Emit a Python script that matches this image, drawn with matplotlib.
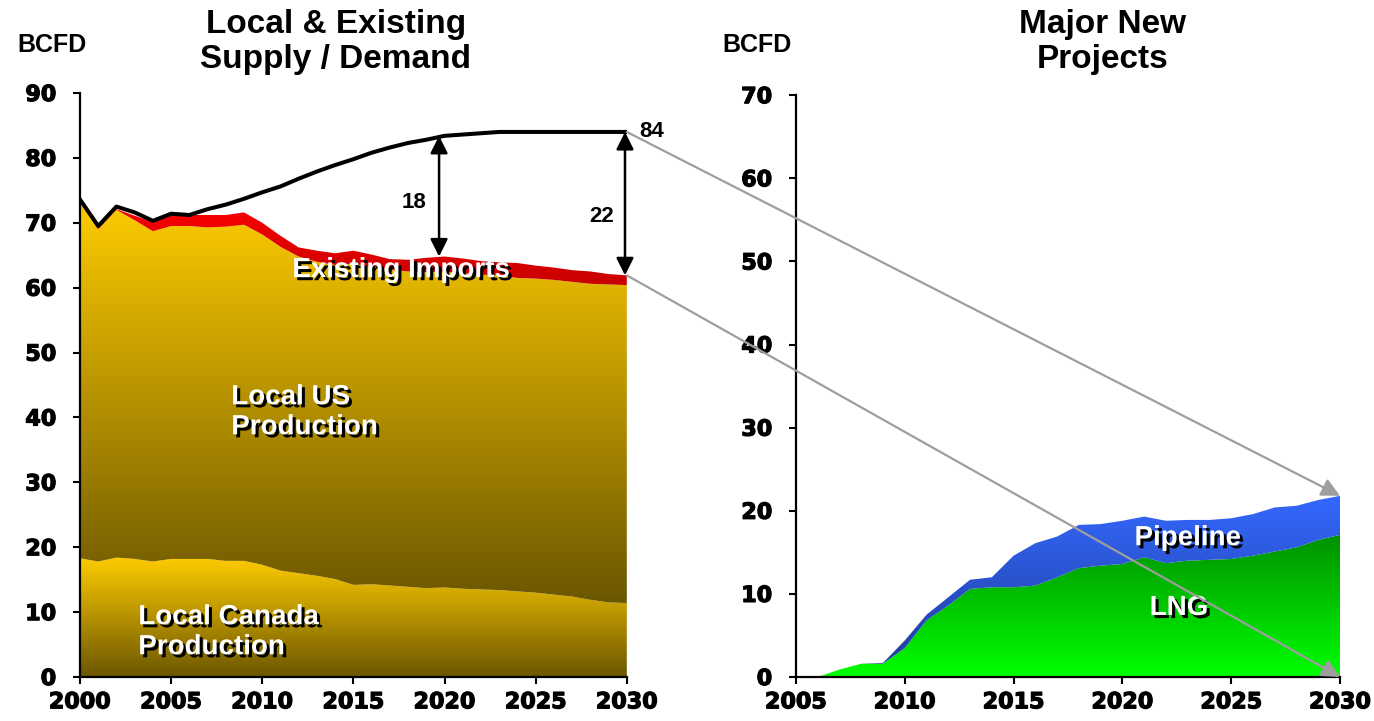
import numpy as np
import matplotlib
matplotlib.use('Agg')
from matplotlib import pyplot as plt
from matplotlib.colors import LinearSegmentedColormap
from matplotlib.patches import ConnectionPatch
import matplotlib.patheffects as pe

# left chart: local & existing supply / demand, BCFD
years = list(range(2000, 2031))
canada = [18.3, 17.8, 18.4, 18.2, 17.8, 18.2, 18.2, 18.2, 17.9, 17.9, 17.3, 16.4, 16.0, 15.6, 15.1, 14.2,
          14.3, 14.1, 13.9, 13.7, 13.8, 13.6, 13.5, 13.4, 13.2, 13.0, 12.7, 12.4, 11.9, 11.5, 11.4]
us_prod = [55.3, 51.2, 53.6, 52.2, 50.9, 51.3, 51.3, 51.1, 51.5, 51.8, 50.9, 49.9, 48.8, 48.4, 48.4, 49.5,
           48.9, 48.7, 48.6, 48.7, 48.7, 48.6, 48.5, 48.5, 48.3, 48.4, 48.5, 48.5, 48.7, 49.0, 49.0]
imports = [0.0, 0.3, 0.1, 0.7, 1.4, 1.8, 1.7, 1.9, 1.8, 1.9, 1.8, 1.7, 1.4, 1.7, 1.8, 2.0,
           1.9, 1.6, 1.8, 2.2, 2.3, 2.3, 2.1, 2.0, 2.3, 2.0, 1.9, 1.8, 1.9, 1.6, 1.5]
demand = [73.6, 69.5, 72.5, 71.6, 70.3, 71.4, 71.2, 72.1, 72.8, 73.7, 74.7, 75.6, 76.8, 77.9, 78.9, 79.8,
          80.8, 81.6, 82.3, 82.8, 83.4, 83.6, 83.8, 84.0, 84.0, 84.0, 84.0, 84.0, 84.0, 84.0, 84.0]

# right chart: major new projects
new_years = list(range(2005, 2031))
lng = [0, 0, 0.9, 1.6, 1.6, 3.5, 6.8, 8.6, 10.6, 10.8, 10.8, 11.0, 12.0, 13.1, 13.4, 13.6,
       14.4, 13.7, 14.0, 14.1, 14.2, 14.6, 15.1, 15.6, 16.5, 17.1]
pipeline = [0, 0, 0, 0, 0.1, 0.9, 0.7, 1.0, 1.1, 1.2, 3.8, 5.1, 4.9, 5.2, 5.0, 5.2,
            4.9, 5.1, 4.9, 4.8, 4.9, 5.0, 5.3, 5.0, 4.8, 4.7]

left_xticks = [2000, 2005, 2010, 2015, 2020, 2025, 2030]
right_xticks = [2005, 2010, 2015, 2020, 2025, 2030]

ARIAL = ['Liberation Sans', 'DejaVu Sans']
HEAVY = ['DejaVu Sans']


def grad_fill(ax, x, lo, hi, top_col, bot_col, z):
    # gradient over the polygon's bounding box, clipped to the polygon
    poly = ax.fill_between(x, lo, hi, facecolor='none', edgecolor='none', zorder=z)
    cmap = LinearSegmentedColormap.from_list('g', [bot_col, top_col])
    grad = np.linspace(0, 1, 256).reshape(-1, 1)
    im = ax.imshow(grad, extent=[x[0], x[-1], np.min(lo), np.max(hi)], origin='lower',
                   aspect='auto', cmap=cmap, zorder=z, interpolation='bilinear')
    im.set_clip_path(poly.get_paths()[0], transform=ax.transData)


def shadow_text(ax, x, y, s, **kw):
    t = ax.text(x, y, s, color='white', fontsize=20, fontweight='bold', family=ARIAL,
                linespacing=1.2, zorder=10, **kw)
    t.set_path_effects([pe.SimplePatchShadow(offset=(2.2, -2.2), shadow_rgbFace='black', alpha=1),
                        pe.Normal()])
    return t


def style_axes(ax):
    for s in ['top', 'right']:
        ax.spines[s].set_visible(False)
    for s in ['left', 'bottom']:
        ax.spines[s].set_linewidth(1.6)
    ax.tick_params(direction='out', length=5, width=1.5)
    ax.tick_params(axis='y', pad=12)
    ax.tick_params(axis='x', pad=6)
    for lab in ax.get_xticklabels() + ax.get_yticklabels():
        lab.set_fontfamily(HEAVY)
        lab.set_fontweight('bold')
        lab.set_fontsize(16)
        lab.set_path_effects([pe.withStroke(linewidth=0.9, foreground='black')])


fig = plt.figure(figsize=(13.74, 7.21), dpi=100)
ax1 = fig.add_axes([0.0582, 0.061, 0.398, 0.81])
ax2 = fig.add_axes([0.5793, 0.061, 0.396, 0.807])

x = np.array(years, dtype=float)
can = np.array(canada)
loc = can + np.array(us_prod)
sup = loc + np.array(imports)
zero = np.zeros_like(x)

grad_fill(ax1, x, zero, can, '#FFCC00', '#6B5600', 1)
grad_fill(ax1, x, can, loc, '#FFCC00', '#6B5600', 1)
grad_fill(ax1, x, loc, sup, '#FF0000', '#C80000', 1)
ax1.plot(x, demand, color='black', lw=2.9, zorder=5, solid_joinstyle='round')

ax1.set_xlim(2000, 2030)
ax1.set_ylim(0, 90)
ax1.set_xticks(left_xticks)
ax1.set_yticks(range(0, 91, 10))
style_axes(ax1)

# gap arrows
i20 = years.index(2020)
ax1.annotate('', xy=(2019.7, sup[i20]), xytext=(2019.7, demand[i20]),
             arrowprops=dict(arrowstyle='<|-|>,head_length=0.7,head_width=0.35', color='black',
                             lw=1.8, mutation_scale=15, shrinkA=0, shrinkB=0), zorder=6)
ax1.annotate('', xy=(2029.9, sup[-1]), xytext=(2029.9, demand[-1]),
             arrowprops=dict(arrowstyle='<|-|>,head_length=0.7,head_width=0.35', color='black',
                             lw=1.8, mutation_scale=15, shrinkA=0, shrinkB=0), zorder=6)
ax1.text(2018.3, 73.2, '18', fontsize=16, fontweight='bold', family=ARIAL, ha='center', va='center')
ax1.text(2028.6, 71.0, '22', fontsize=16, fontweight='bold', family=ARIAL, ha='center', va='center')
ax1.text(2030.7, 84, '84', fontsize=16, fontweight='bold', family=ARIAL, ha='left', va='center',
         clip_on=False)

shadow_text(ax1, 2017.6, 62.7, 'Existing Imports', ha='center', va='center')
shadow_text(ax1, 2008.3, 40.8, 'Local US\nProduction', ha='left', va='center')
shadow_text(ax1, 2003.2, 6.9, 'Local Canada\nProduction', ha='left', va='center')

# right chart
xn = np.array(new_years, dtype=float)
lng_a = np.array(lng)
tot = lng_a + np.array(pipeline)
grad_fill(ax2, xn, np.zeros_like(xn), lng_a, '#009000', '#00FF00', 1)
grad_fill(ax2, xn, lng_a, tot, '#3468FF', '#1E3C96', 1)
ax2.set_xlim(2005, 2030)
ax2.set_ylim(0, 70)
ax2.set_xticks(right_xticks)
ax2.set_yticks(range(0, 71, 10))
style_axes(ax2)

shadow_text(ax2, 2023.0, 16.7, 'Pipeline', ha='center', va='center')
shadow_text(ax2, 2022.6, 8.3, 'LNG', ha='center', va='center')

# connectors from left to right chart
for ya, yb in [(demand[-1], tot[-1]), (sup[-1], 0.0)]:
    con = ConnectionPatch(xyA=(2030, ya), coordsA='data', axesA=ax1,
                          xyB=(2030, yb), coordsB='data', axesB=ax2,
                          arrowstyle='-|>', mutation_scale=28, color='#9E9E9E', lw=1.6,
                          shrinkA=0, shrinkB=0, zorder=20, clip_on=False)
    fig.add_artist(con)

# titles and units
fig.text(0.2445, 0.942, 'Local & Existing\nSupply / Demand', ha='center', va='center', fontsize=24,
         fontweight='bold', family=ARIAL, linespacing=1.15)
fig.text(0.8028, 0.942, 'Major New\nProjects', ha='center', va='center', fontsize=24,
         fontweight='bold', family=ARIAL, linespacing=1.15)
fig.text(0.0124, 0.9376, 'BCFD', ha='left', va='center', fontsize=18, fontweight='bold', family=ARIAL)
fig.text(0.5255, 0.9376, 'BCFD', ha='left', va='center', fontsize=18, fontweight='bold', family=ARIAL)

fig.savefig('out.png', dpi=100)
